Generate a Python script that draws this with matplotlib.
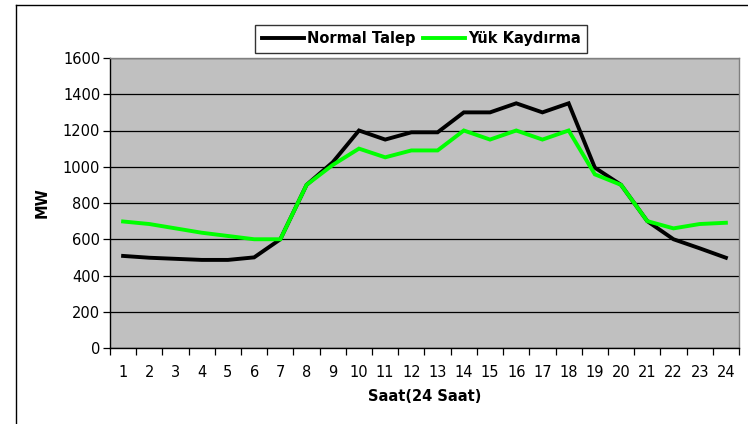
import matplotlib
matplotlib.use("Agg")
import matplotlib.pyplot as plt
from matplotlib.lines import Line2D
import numpy as np

hours = list(range(1, 25))
normal_talep = [508, 498, 492, 486, 486, 500, 600, 900, 1025, 1200, 1150, 1190, 1190, 1300, 1300, 1350, 1300, 1350, 995, 900, 700, 600, 550, 498]
yuk_kaydirma = [698, 684, 660, 636, 618, 600, 600, 900, 1010, 1100, 1052, 1090, 1090, 1200, 1150, 1200, 1150, 1200, 958, 900, 700, 660, 684, 691]
y_ticks = [0, 200, 400, 600, 800, 1000, 1200, 1400, 1600]

W, H = 748, 424
fig = plt.figure(figsize=(W / 100, H / 100), dpi=100)
fig.patch.set_facecolor("white")

# outer chart border (left and top visible)
fig.add_artist(Line2D([16 / W, 16 / W], [0, 1 - 5 / H], transform=fig.transFigure, color="black", lw=1))
fig.add_artist(Line2D([16 / W, 1], [1 - 5 / H, 1 - 5 / H], transform=fig.transFigure, color="black", lw=1))

left, right, top, bottom = 110, 739, 58, 348
ax = fig.add_axes([left / W, 1 - bottom / H, (right - left) / W, (bottom - top) / H])
ax.set_facecolor("#C0C0C0")

ax.plot(hours, normal_talep, color="black", lw=2.8, label="Normal Talep", solid_joinstyle="miter")
ax.plot(hours, yuk_kaydirma, color="#00FF00", lw=2.8, label="Yük Kaydırma", solid_joinstyle="miter")

ax.set_xlim(0.5, 24.5)
ax.set_ylim(0, 1600)
ax.set_yticks(y_ticks)
ax.yaxis.grid(True, color="black", lw=0.9)
ax.set_axisbelow(True)

fs = 10.5
ax.set_xticks(hours)
ax.set_xticklabels([str(h) for h in hours])
ax.tick_params(axis="x", which="major", length=0, pad=12, labelsize=fs)
ax.set_xticks(np.arange(0.5, 25, 1), minor=True)
ax.tick_params(axis="x", which="minor", length=5, width=0.9, direction="out", color="black")
ax.tick_params(axis="y", length=5, width=0.9, direction="out", labelsize=fs, pad=2)

for s in ["top", "right"]:
    ax.spines[s].set_color("#808080")
    ax.spines[s].set_linewidth(1)
for s in ["left", "bottom"]:
    ax.spines[s].set_color("black")
    ax.spines[s].set_linewidth(1)

ax.set_xlabel("Saat(24 Saat)", fontweight="bold", fontsize=fs, labelpad=7)
fig.text(42 / W, 1 - 203 / H, "MW", rotation=90, fontweight="bold", fontsize=fs, ha="center", va="center")

leg = fig.legend(loc="center", bbox_to_anchor=(421 / W, 1 - 39 / H), ncol=2, frameon=True,
                 fancybox=False, edgecolor="black", prop={"weight": "bold", "size": fs},
                 handlelength=2.9, handletextpad=0.2, columnspacing=0.5, borderpad=0.45)
leg.get_frame().set_linewidth(1)

fig.savefig("out.png", dpi=100)
